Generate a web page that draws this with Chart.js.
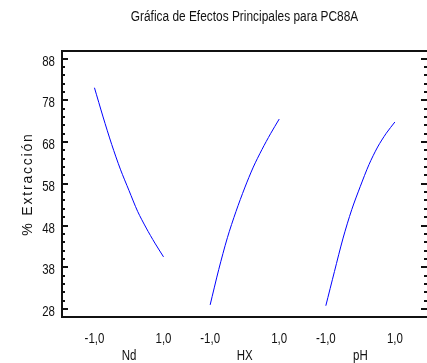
<!DOCTYPE html>
<html>
<head>
<meta charset="utf-8">
<script src="https://cdn.jsdelivr.net/npm/chart.js@4/dist/chart.umd.min.js"></script>
<style>
  html,body{margin:0;padding:0;background:#fff;}
  canvas{display:block;}
</style>
</head>
<body>
<canvas id="mainEff" width="427" height="363"></canvas>
<script>
// ── data ──
const chartTitle  = 'Gráfica de Efectos Principales para PC88A';
const yTitle      = '% Extracción';
const factors     = ['Nd','HX','pH'];
const levels      = [-1, -0.75, -0.5, -0.25, 0, 0.25, 0.5, 0.75, 1];
const ndVals      = [81.0, 74.0, 67.4, 61.5, 56.4, 51.4, 47.4, 43.8, 40.5];
const hxVals      = [29.0, 37.5, 45.1, 51.4, 57.0, 62.0, 66.2, 70.0, 73.5];
const phVals      = [28.8, 37.0, 45.0, 51.8, 57.4, 62.6, 66.8, 70.1, 72.8];
const xTickLabels = ['-1,0', '1,0'];
const yTickLabels = ['28','38','48','58','68','78','88'];

const series  = [ndVals, hxVals, phVals];
const GAP     = 3.35;        // distance between panel centres, in x units
const FONT    = '"Liberation Sans",Arial,sans-serif';
const INK     = '#111';

const yMajor = yTickLabels.map(Number);
const yMinor = [];
for(let v=yMajor[0]; v<=yMajor[yMajor.length-1]; v+=2) yMinor.push(v);

const datasets = series.map((vals,k)=>({
  label: factors[k],
  data: levels.map((l,i)=>({x:l+k*GAP, y:vals[i]})),
  borderColor:'#0000ff', borderWidth:1, pointRadius:0,
  tension:0.3, fill:false
}));

// condensed text (the original uses a narrow face)
function narrowText(ctx, txt, x, y, align, sx){
  ctx.save();
  ctx.translate(x, y);
  ctx.scale(sx, 1);
  ctx.textAlign = align;
  ctx.fillText(txt, 0, 0);
  ctx.restore();
}

// frame, inward ticks, tick labels, title and y title
const framePlug = {
  id:'frame',
  afterDraw(chart){
    const ctx = chart.ctx;
    const {top,bottom,left,right} = chart.chartArea;
    const ys = chart.scales.y, xs = chart.scales.x;
    ctx.save();
    ctx.strokeStyle = INK;
    ctx.lineWidth = 2;
    ctx.beginPath();
    ctx.moveTo(right+2, top); ctx.lineTo(left, top);
    ctx.lineTo(left, bottom); ctx.lineTo(right+2, bottom);
    ctx.stroke();

    yMinor.forEach(v=>{
      const py = Math.round(ys.getPixelForValue(v));
      const major = yMajor.includes(v);
      ctx.beginPath();
      ctx.moveTo(left, py); ctx.lineTo(left+(major?6:3), py);
      ctx.moveTo(right, py); ctx.lineTo(right-(major?6:3), py);
      ctx.stroke();
    });

    ctx.fillStyle = INK;
    ctx.font = '14px '+FONT;
    ctx.textBaseline = 'alphabetic';

    // y tick labels
    ys.ticks.forEach(t=>{
      if(!t.label) return;
      narrowText(ctx, t.label, left-7, ys.getPixelForValue(t.value)+7, 'right', 0.82);
    });
    // x tick labels (second line = factor name)
    xs.ticks.forEach(t=>{
      const px = xs.getPixelForValue(t.value);
      const lines = Array.isArray(t.label) ? t.label : [t.label];
      lines.forEach((s,li)=>{ if(s) narrowText(ctx, s, px, bottom+26+li*17, 'center', 0.82); });
    });

    // chart title
    narrowText(ctx, chartTitle, (left+right)/2, 21, 'center', 0.85);

    // y axis title
    ctx.translate(32, (top+bottom)/2);
    ctx.rotate(-Math.PI/2);
    ctx.textAlign = 'center';
    ctx.letterSpacing = '1.8px';
    ctx.fillText(yTitle, 0, 0);
    ctx.restore();
  }
};

new Chart(document.getElementById('mainEff'), {
  type:'line',
  data:{datasets},
  plugins:[framePlug],
  options:{
    responsive:false, animation:false,
    layout:{padding:{top:51,left:0,right:0,bottom:0}},
    plugins:{legend:{display:false}, tooltip:{enabled:false}, title:{display:false}},
    scales:{
      x:{
        type:'linear', min:-1.94, max:8.63,
        grid:{display:false, drawTicks:false}, border:{display:false},
        afterBuildTicks(scale){
          scale.ticks = factors.flatMap((f,k)=>[
            {value:-1+k*GAP},{value:k*GAP},{value:1+k*GAP}
          ]);
        },
        afterFit(scale){ scale.height = 46; },
        ticks:{
          autoSkip:false, maxRotation:0, padding:11,
          color:'rgba(0,0,0,0)', font:{size:14, family:FONT},
          callback(v, i){
            const j = i%3;
            if(j===0) return xTickLabels[0];
            if(j===2) return xTickLabels[1];
            return ['', factors[Math.floor(i/3)]];
          }
        }
      },
      y:{
        type:'linear', min:26.1, max:89.8,
        grid:{display:false, drawTicks:false}, border:{display:false},
        afterBuildTicks(scale){ scale.ticks = yMinor.map(v=>({value:v})); },
        afterFit(scale){ scale.width = 62; },
        ticks:{
          autoSkip:false, padding:7,
          color:'rgba(0,0,0,0)', font:{size:14, family:FONT},
          callback(v){ const s=String(v); return yTickLabels.includes(s) ? s : ''; }
        }
      }
    }
  }
});
</script>
</body>
</html>
